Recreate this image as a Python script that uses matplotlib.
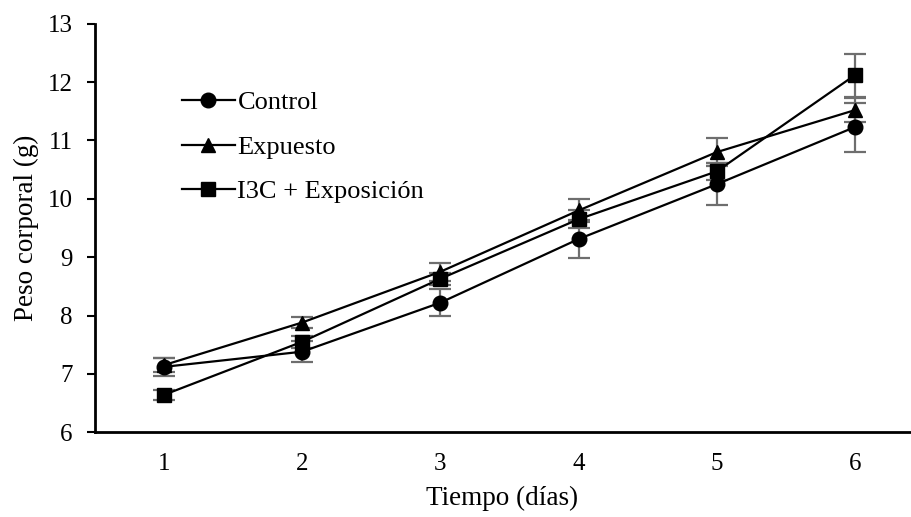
import numpy as np
import matplotlib
matplotlib.use('Agg')
import matplotlib.pyplot as plt

plt.rcParams['font.family'] = ['Liberation Serif', 'DejaVu Serif']

# data
dias = [1, 2, 3, 4, 5, 6]
control = [7.12, 7.38, 8.22, 9.31, 10.25, 11.23]
control_err = [0.16, 0.18, 0.23, 0.32, 0.36, 0.42]
expuesto = [7.15, 7.88, 8.75, 9.80, 10.80, 11.52]
expuesto_err = [0.12, 0.10, 0.15, 0.20, 0.24, 0.20]
i3c = [6.64, 7.55, 8.63, 9.65, 10.47, 12.12]
i3c_err = [0.08, 0.10, 0.10, 0.15, 0.15, 0.37]

fig = plt.figure(figsize=(9.12, 5.17), dpi=100)
ax = fig.add_axes([0.104, 0.164, 0.894, 0.790])

series = [(control, control_err, 'o', 'Control', 10.5),
          (expuesto, expuesto_err, '^', 'Expuesto', 10.5),
          (i3c, i3c_err, 's', 'I3C + Exposición', 10)]

for vals, err, mk, lab, ms in series:
    ax.errorbar(dias, vals, yerr=err, fmt='none', ecolor='#6e6e6e',
                elinewidth=1.6, capsize=8, capthick=1.6, zorder=2)
    ax.plot(dias, vals, color='black', linewidth=1.6, marker=mk,
            markersize=ms, label=lab, zorder=3)

ax.set_xlim(0.5, 6.4)
ax.set_ylim(6, 13)
ax.set_xticks(dias)
ax.set_yticks(range(6, 14))
ax.tick_params(axis='x', length=0, pad=15, labelsize=18)
ax.tick_params(axis='y', length=6, width=1.5, direction='out', pad=10, labelsize=18)

for s in ['top', 'right']:
    ax.spines[s].set_visible(False)
ax.spines['left'].set_linewidth(2)
ax.spines['bottom'].set_linewidth(2)

ax.set_xlabel('Tiempo (días)', fontsize=19.5, labelpad=8)
ax.set_ylabel('Peso corporal (g)', fontsize=19.5, labelpad=6)

ax.legend(loc='upper left', bbox_to_anchor=(0.188, 0.845), bbox_transform=fig.transFigure,
          frameon=False, fontsize=19, handlelength=2.0, handletextpad=0.1,
          labelspacing=0.8, borderaxespad=0)

fig.savefig('out.png', dpi=100)
